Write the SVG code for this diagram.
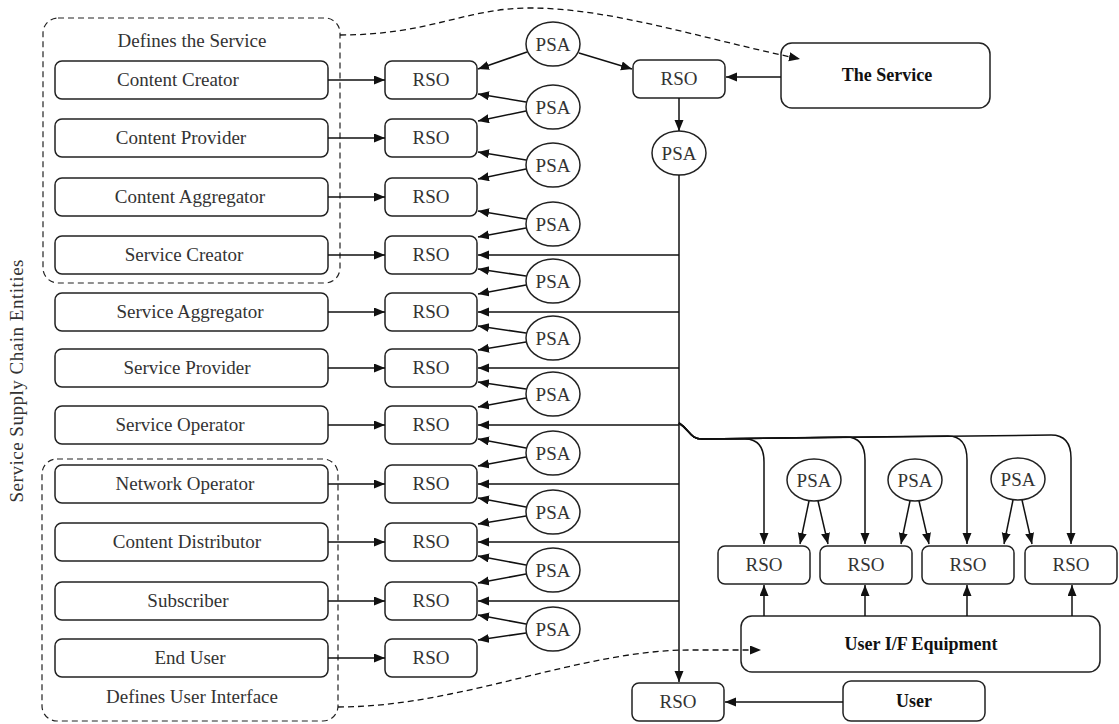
<svg xmlns="http://www.w3.org/2000/svg" width="1119" height="724" viewBox="0 0 1119 724">
<defs>
<marker id="ah" markerUnits="userSpaceOnUse" markerWidth="12" markerHeight="10" refX="11" refY="4.5" orient="auto">
<path d="M0,0 L11,4.5 L0,9 z" fill="#111"/>
</marker>
<style>
.box{fill:#fff;stroke:#222;stroke-width:1.5}
.grp{fill:none;stroke:#222;stroke-width:1.2;stroke-dasharray:6 4}
.ell{fill:#fff;stroke:#222;stroke-width:1.5}
.t{font-family:"Liberation Serif","Times New Roman",serif;font-size:19px;fill:#333;text-anchor:middle}
.tb{font-family:"Liberation Serif","Times New Roman",serif;font-size:18px;font-weight:bold;fill:#111;text-anchor:middle}
.e{fill:none;stroke:#111;stroke-width:1.5;marker-end:url(#ah)}
.d{fill:none;stroke:#111;stroke-width:1.3;stroke-dasharray:6 4;marker-end:url(#ah)}
</style>
</defs>
<rect width="1119" height="724" fill="#fff"/>

<text class="t" transform="translate(23,381) rotate(-90)" textLength="243" lengthAdjust="spacing">Service Supply Chain Entities</text>

<g id="group-service">
<rect class="grp" x="43" y="18" width="297" height="265" rx="15"/>
<text class="t" x="192" y="47">Defines the Service</text>
</g>
<g id="group-ui">
<rect class="grp" x="42" y="459" width="296" height="262" rx="15"/>
<text class="t" x="192" y="703">Defines User Interface</text>
</g>

<g id="entity-content-creator"><rect class="box" x="55" y="61" width="273" height="38" rx="7"/><text class="t" x="178" y="86">Content Creator</text></g>
<g id="entity-content-provider"><rect class="box" x="55" y="119" width="273" height="38" rx="7"/><text class="t" x="181" y="144">Content Provider</text></g>
<g id="entity-content-aggregator"><rect class="box" x="55" y="178" width="273" height="38" rx="7"/><text class="t" x="190" y="203">Content Aggregator</text></g>
<g id="entity-service-creator"><rect class="box" x="55" y="236" width="273" height="38" rx="7"/><text class="t" x="184" y="261">Service Creator</text></g>
<g id="entity-service-aggregator"><rect class="box" x="55" y="293" width="273" height="38" rx="7"/><text class="t" x="190" y="318">Service Aggregator</text></g>
<g id="entity-service-provider"><rect class="box" x="55" y="349" width="273" height="38" rx="7"/><text class="t" x="187" y="374">Service Provider</text></g>
<g id="entity-service-operator"><rect class="box" x="55" y="406" width="273" height="38" rx="7"/><text class="t" x="180" y="431">Service Operator</text></g>
<g id="entity-network-operator"><rect class="box" x="55" y="465" width="273" height="38" rx="7"/><text class="t" x="185" y="490">Network Operator</text></g>
<g id="entity-content-distributor"><rect class="box" x="55" y="523" width="273" height="38" rx="7"/><text class="t" x="187" y="548">Content Distributor</text></g>
<g id="entity-subscriber"><rect class="box" x="55" y="582" width="273" height="38" rx="7"/><text class="t" x="188" y="607">Subscriber</text></g>
<g id="entity-end-user"><rect class="box" x="55" y="639" width="273" height="38" rx="7"/><text class="t" x="190" y="664">End User</text></g>

<g id="rso-1"><rect class="box" x="385" y="61" width="92" height="38" rx="7"/><text class="t" x="431" y="86">RSO</text></g>
<g id="rso-2"><rect class="box" x="385" y="119" width="92" height="38" rx="7"/><text class="t" x="431" y="144">RSO</text></g>
<g id="rso-3"><rect class="box" x="385" y="178" width="92" height="38" rx="7"/><text class="t" x="431" y="203">RSO</text></g>
<g id="rso-4"><rect class="box" x="385" y="236" width="92" height="38" rx="7"/><text class="t" x="431" y="261">RSO</text></g>
<g id="rso-5"><rect class="box" x="385" y="293" width="92" height="38" rx="7"/><text class="t" x="431" y="318">RSO</text></g>
<g id="rso-6"><rect class="box" x="385" y="349" width="92" height="38" rx="7"/><text class="t" x="431" y="374">RSO</text></g>
<g id="rso-7"><rect class="box" x="385" y="406" width="92" height="38" rx="7"/><text class="t" x="431" y="431">RSO</text></g>
<g id="rso-8"><rect class="box" x="385" y="465" width="92" height="38" rx="7"/><text class="t" x="431" y="490">RSO</text></g>
<g id="rso-9"><rect class="box" x="385" y="523" width="92" height="38" rx="7"/><text class="t" x="431" y="548">RSO</text></g>
<g id="rso-10"><rect class="box" x="385" y="582" width="92" height="38" rx="7"/><text class="t" x="431" y="607">RSO</text></g>
<g id="rso-11"><rect class="box" x="385" y="639" width="92" height="38" rx="7"/><text class="t" x="431" y="664">RSO</text></g>

<g id="psa-1"><ellipse class="ell" cx="553" cy="44" rx="27" ry="22"/><text class="t" x="553" y="51">PSA</text></g>
<g id="psa-2"><ellipse class="ell" cx="553" cy="107" rx="27" ry="22"/><text class="t" x="553" y="114">PSA</text></g>
<g id="psa-3"><ellipse class="ell" cx="553" cy="165" rx="27" ry="22"/><text class="t" x="553" y="172">PSA</text></g>
<g id="psa-4"><ellipse class="ell" cx="553" cy="224" rx="27" ry="22"/><text class="t" x="553" y="231">PSA</text></g>
<g id="psa-5"><ellipse class="ell" cx="553" cy="281" rx="27" ry="22"/><text class="t" x="553" y="288">PSA</text></g>
<g id="psa-6"><ellipse class="ell" cx="553" cy="338" rx="27" ry="22"/><text class="t" x="553" y="345">PSA</text></g>
<g id="psa-7"><ellipse class="ell" cx="553" cy="394" rx="27" ry="22"/><text class="t" x="553" y="401">PSA</text></g>
<g id="psa-8"><ellipse class="ell" cx="553" cy="453" rx="27" ry="22"/><text class="t" x="553" y="460">PSA</text></g>
<g id="psa-9"><ellipse class="ell" cx="553" cy="512" rx="27" ry="22"/><text class="t" x="553" y="519">PSA</text></g>
<g id="psa-10"><ellipse class="ell" cx="553" cy="570" rx="27" ry="22"/><text class="t" x="553" y="577">PSA</text></g>
<g id="psa-11"><ellipse class="ell" cx="553" cy="629" rx="27" ry="22"/><text class="t" x="553" y="636">PSA</text></g>

<g id="rso-top"><rect class="box" x="633" y="60" width="92" height="38" rx="7"/><text class="t" x="679" y="85">RSO</text></g>
<g id="psa-top"><ellipse class="ell" cx="679" cy="153" rx="27" ry="22"/><text class="t" x="679" y="160">PSA</text></g>
<g id="the-service"><rect class="box" x="781" y="43" width="209" height="65" rx="11"/><text class="tb" x="887" y="81">The Service</text></g>

<g id="psa-r1"><ellipse class="ell" cx="814" cy="480" rx="27" ry="21"/><text class="t" x="814" y="487">PSA</text></g>
<g id="psa-r2"><ellipse class="ell" cx="915" cy="480" rx="27" ry="21"/><text class="t" x="915" y="487">PSA</text></g>
<g id="psa-r3"><ellipse class="ell" cx="1018" cy="479" rx="27" ry="21"/><text class="t" x="1018" y="486">PSA</text></g>

<g id="rso-r1"><rect class="box" x="718" y="546" width="92" height="38" rx="7"/><text class="t" x="764" y="571">RSO</text></g>
<g id="rso-r2"><rect class="box" x="820" y="546" width="92" height="38" rx="7"/><text class="t" x="866" y="571">RSO</text></g>
<g id="rso-r3"><rect class="box" x="922" y="546" width="92" height="38" rx="7"/><text class="t" x="968" y="571">RSO</text></g>
<g id="rso-r4"><rect class="box" x="1025" y="546" width="92" height="38" rx="7"/><text class="t" x="1071" y="571">RSO</text></g>

<g id="user-if-equipment"><rect class="box" x="741" y="616" width="359" height="56" rx="11"/><text class="tb" x="921" y="650">User I/F Equipment</text></g>
<g id="rso-bottom"><rect class="box" x="632" y="683" width="92" height="38" rx="7"/><text class="t" x="678" y="708">RSO</text></g>
<g id="user"><rect class="box" x="843" y="681" width="142" height="40" rx="8"/><text class="tb" x="914" y="707">User</text></g>

<g id="connectors">
<path class="e" d="M328,80 L385,80"/>
<path class="e" d="M328,138 L385,138"/>
<path class="e" d="M328,197 L385,197"/>
<path class="e" d="M328,255 L385,255"/>
<path class="e" d="M328,312 L385,312"/>
<path class="e" d="M328,368 L385,368"/>
<path class="e" d="M328,425 L385,425"/>
<path class="e" d="M328,484 L385,484"/>
<path class="e" d="M328,542 L385,542"/>
<path class="e" d="M328,601 L385,601"/>
<path class="e" d="M328,658 L385,658"/>
<path class="e" d="M527,52 L478,69"/>
<path class="e" d="M579,53 L632,69"/>
<path class="e" d="M526,102 L478,94"/>
<path class="e" d="M526,111 L478,121"/>
<path class="e" d="M526,160 L478,152"/>
<path class="e" d="M526,169 L478,179"/>
<path class="e" d="M526,219 L478,211"/>
<path class="e" d="M526,228 L478,237"/>
<path class="e" d="M526,276 L478,269"/>
<path class="e" d="M526,285 L478,294"/>
<path class="e" d="M526,333 L478,326"/>
<path class="e" d="M526,342 L478,350"/>
<path class="e" d="M526,389 L478,382"/>
<path class="e" d="M526,398 L478,407"/>
<path class="e" d="M526,448 L478,439"/>
<path class="e" d="M526,457 L478,466"/>
<path class="e" d="M526,507 L478,498"/>
<path class="e" d="M526,516 L478,524"/>
<path class="e" d="M526,565 L478,556"/>
<path class="e" d="M526,574 L478,583"/>
<path class="e" d="M526,624 L478,615"/>
<path class="e" d="M526,633 L478,640"/>
<path class="e" d="M781,77 L726,77"/>
<path class="e" d="M679,98 L679,131"/>
<path class="e" d="M679,175 L679,682"/>
<path class="e" d="M679,255 L478,255"/>
<path class="e" d="M679,312 L478,312"/>
<path class="e" d="M679,368 L478,368"/>
<path class="e" d="M679,425 L478,425"/>
<path class="e" d="M679,484 L478,484"/>
<path class="e" d="M679,542 L478,542"/>
<path class="e" d="M679,601 L478,601"/>
<path class="e" d="M679,423 C690,430 690,439 702,439 L745,439 Q764,439 764,462 L764,544"/>
<path class="e" d="M679,423 C690,430 690,439 702,439 L846,437 Q865,437 865,460 L865,544"/>
<path class="e" d="M679,423 C690,430 690,439 702,439 L948,436 Q967,436 967,460 L967,544"/>
<path class="e" d="M679,423 C690,430 690,439 702,439 L1051,435 Q1071,435 1071,458 L1071,544"/>
<path class="e" d="M809,501 L800,544"/>
<path class="e" d="M818,501 L828,544"/>
<path class="e" d="M910,501 L901,544"/>
<path class="e" d="M919,501 L929,544"/>
<path class="e" d="M1013,500 L1004,544"/>
<path class="e" d="M1022,500 L1032,544"/>
<path class="e" d="M764,616 L764,585"/>
<path class="e" d="M865,616 L865,585"/>
<path class="e" d="M967,616 L967,585"/>
<path class="e" d="M1072,616 L1072,585"/>
<path class="e" d="M843,702 L725,702"/>
<path class="d" d="M340,35 C430,35 465,8 530,8 C610,8 700,38 800,59"/>
<path class="d" d="M338,707 C460,707 580,650 690,650 L761,650"/>
</g>
</svg>
